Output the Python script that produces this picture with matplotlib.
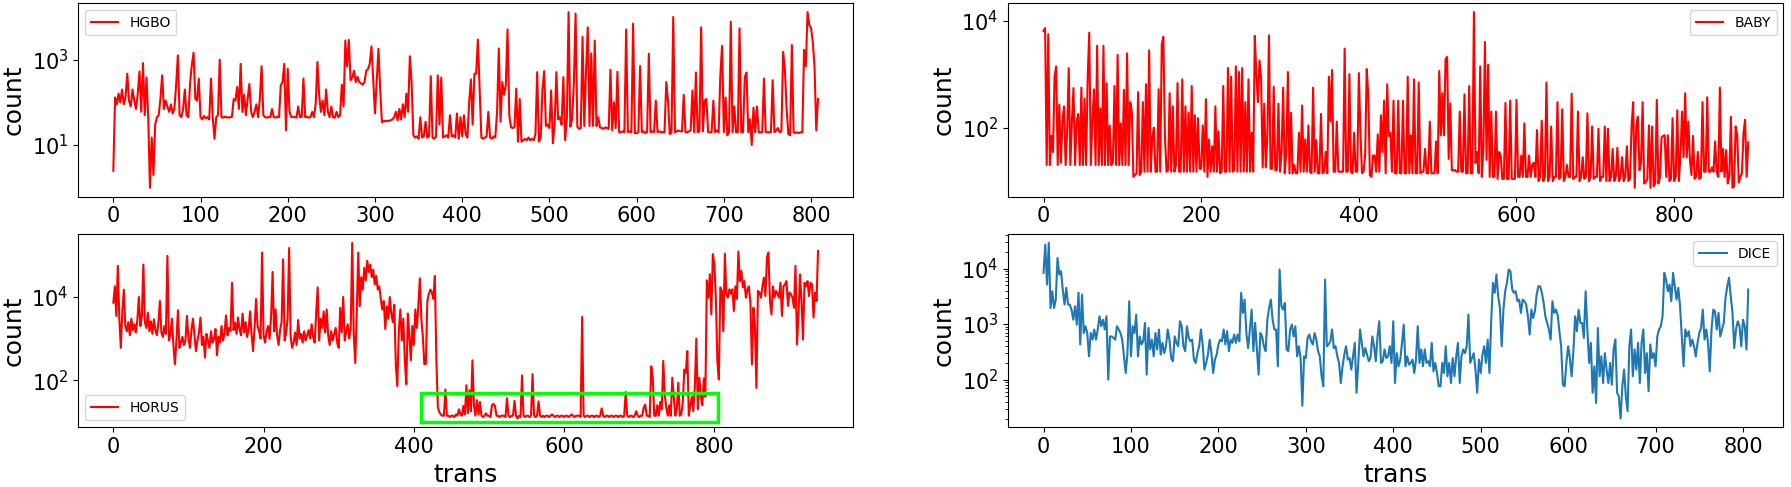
import numpy as np
import matplotlib
matplotlib.use("Agg")
import matplotlib.pyplot as plt
from matplotlib.patches import Rectangle
from matplotlib.ticker import NullLocator

# =========================
# DATA (one value every 2 trans)
# =========================
step = 2

hgbo = [
    2.5, 130, 90, 160, 100, 200, 90, 130, 470, 110,
    80, 200, 110, 70, 160, 530, 60, 830, 50, 380,
    45, 1, 15, 2, 30, 45, 50, 120, 430, 70,
    110, 80, 60, 90, 55, 70, 250, 1260, 50, 45,
    70, 200, 50, 45, 280, 740, 1450, 120, 110, 360,
    45, 40, 48, 42, 45, 40, 360, 45, 14, 45,
    50, 1000, 45, 44, 46, 45, 44, 45, 46, 120,
    110, 230, 70, 800, 60, 150, 50, 120, 270, 60,
    45, 60, 90, 45, 120, 700, 50, 45, 44, 45,
    45, 70, 45, 44, 46, 45, 250, 300, 800, 22,
    610, 60, 45, 46, 45, 44, 80, 45, 46, 360,
    45, 46, 44, 45, 60, 45, 90, 880, 150, 60,
    110, 50, 200, 60, 45, 80, 45, 44, 60, 45,
    50, 260, 80, 2800, 700, 2900, 330, 380, 550, 300,
    400, 300, 280, 260, 300, 550, 600, 800, 2040, 350,
    55, 300, 1800, 200, 34, 37, 36, 37, 37, 38,
    40, 45, 60, 38, 70, 40, 90, 45, 160, 60,
    1200, 300, 17, 15, 16, 14, 45, 15, 16, 35,
    15, 16, 410, 15, 14, 16, 430, 30, 380, 15,
    16, 17, 15, 50, 16, 17, 15, 55, 14, 45,
    16, 50, 18, 15, 100, 345, 30, 470, 470, 2950,
    220, 15, 14, 15, 16, 60, 15, 14, 16, 15,
    60, 1830, 35, 300, 150, 250, 5100, 50, 26, 25,
    27, 210, 12, 120, 12, 13, 14, 13, 15, 13,
    14, 13, 18, 510, 12, 15, 200, 540, 28, 30,
    25, 190, 11, 30, 510, 40, 45, 30, 390, 13,
    40, 13000, 27, 40, 260, 12000, 27, 24, 25, 3400,
    28, 550, 5700, 28, 1400, 28, 2800, 28, 45, 26,
    25, 24, 26, 25, 24, 580, 22, 100, 25, 520,
    20, 20, 21, 20, 5100, 20, 21, 20, 7000, 19,
    19, 20, 710, 20, 21, 19, 20, 1380, 20, 21,
    20, 110, 20, 21, 20, 20, 20, 300, 110, 18,
    20, 10000, 20, 21, 22, 21, 21, 150, 20, 20,
    21, 22, 190, 20, 500, 20, 21, 5700, 21, 110,
    120, 20, 20, 20, 110, 20, 22, 20, 430, 2100,
    20, 130, 17, 20, 7700, 20, 80, 20, 20, 5400,
    20, 20, 390, 500, 20, 40, 10, 75, 20, 80,
    20, 20, 20, 360, 20, 20, 20, 20, 330, 20,
    22, 25, 20, 21, 1520, 600, 70, 18, 17, 2200,
    20, 19, 20, 19, 20, 20, 1700, 700, 13000, 6500,
    5500, 2600, 680, 22, 120,
]

baby = [
    6400, 7300, 20, 5600, 20, 70, 35, 900, 1400, 20,
    270, 22, 130, 250, 20, 90, 1300, 20, 130, 550,
    20, 130, 180, 20, 560, 20, 350, 20, 870, 6000,
    20, 140, 520, 20, 3400, 20, 230, 20, 3400, 20,
    680, 20, 110, 20, 22, 600, 20, 2300, 20, 120,
    20, 510, 20, 2450, 20, 300, 200, 12, 13, 14,
    460, 13, 15, 300, 15, 650, 15, 2800, 15, 65,
    100, 15, 15, 520, 15, 3600, 5000, 70, 15, 16,
    440, 15, 250, 15, 20, 680, 15, 15, 800, 15,
    250, 15, 190, 15, 600, 15, 170, 15, 150, 17,
    17, 110, 15, 340, 12, 60, 15, 45, 15, 250,
    15, 85, 14, 15, 600, 15, 15, 1300, 15, 900,
    15, 16, 1400, 15, 1100, 15, 1300, 15, 300, 15,
    800, 15, 80, 15, 5200, 1000, 300, 1800, 850, 18,
    280, 18, 72, 5300, 17, 17, 580, 16, 16, 280,
    15, 35, 560, 14, 35, 1100, 14, 190, 14, 20,
    14, 14, 80, 15, 260, 15, 60, 15, 110, 15,
    14, 560, 15, 58, 14, 14, 180, 14, 15, 35,
    14, 900, 130, 1200, 15, 15, 130, 15, 15, 15,
    15, 3000, 15, 15, 1000, 15, 14, 80, 15, 15,
    1050, 80, 14, 15, 30, 1250, 400, 13, 12, 30,
    30, 15, 75, 15, 170, 35, 320, 14, 650, 70,
    80, 15, 320, 14, 14, 320, 14, 14, 320, 14,
    14, 900, 14, 72, 14, 800, 14, 14, 700, 14,
    15, 15, 40, 14, 14, 130, 14, 14, 14, 55,
    14, 1150, 72, 440, 72, 1900, 2100, 26, 285, 16,
    16, 16, 15, 15, 200, 15, 15, 420, 14, 14,
    600, 14, 14, 14500, 22, 35, 14, 1400, 12, 40,
    4000, 25, 1500, 12, 200, 12, 12, 200, 11, 35,
    30, 11, 11, 290, 11, 11, 320, 11, 11, 11,
    330, 12, 12, 30, 12, 120, 12, 12, 30, 12,
    20, 22, 12, 90, 10, 12, 135, 10, 12, 700,
    10, 12, 105, 10, 12, 12, 300, 11, 12, 220,
    10, 12, 20, 12, 12, 430, 11, 12, 12, 200,
    10, 12, 28, 11, 12, 185, 10, 12, 105, 11,
    12, 12, 95, 10, 12, 12, 105, 10, 95, 10,
    12, 40, 10, 12, 42, 10, 12, 28, 10, 12,
    45, 10, 11, 105, 300, 7.5, 110, 160, 16, 22,
    300, 9, 9.5, 11, 110, 7.5, 105, 8, 9, 330,
    9, 12, 65, 70, 72, 12, 72, 10, 11, 150,
    10, 12, 210, 10, 30, 200, 28, 440, 28, 130,
    25, 13, 70, 11, 12, 35, 11, 12, 300, 15,
    15, 370, 15, 15, 18, 15, 55, 15, 12, 560,
    15, 40, 12, 38, 9, 12, 160, 7.5, 8, 105,
    72, 9.4, 12, 14, 80, 140, 12, 53,
]

horus = [
    7300, 18000, 3500, 56000, 3000, 600, 4500, 15000, 2000, 1500,
    2500, 1200, 3000, 1600, 2200, 1400, 2800, 10000, 2000, 3500,
    60000, 2500, 1800, 4200, 1500, 2600, 1300, 2900, 1600, 1200,
    2400, 8000, 1400, 1100, 2000, 1300, 97000, 900, 1200, 3000,
    700, 240, 900, 4800, 600, 800, 1100, 700, 900, 3500,
    1000, 600, 1600, 3000, 1200, 500, 900, 1400, 3200, 700,
    1100, 350, 1300, 900, 600, 1500, 800, 1000, 1700, 400,
    1100, 800, 2000, 900, 1300, 3600, 1200, 1800, 1500, 22000,
    1600, 2400, 1300, 3200, 1700, 1200, 4000, 1400, 2500, 1100,
    1600, 4500, 1300, 500, 1800, 9000, 2000, 1500, 1000, 117000,
    1200, 800, 1500, 2000, 1000, 3500, 40000, 1500, 5000, 1200,
    700, 1600, 2500, 80000, 900, 1400, 3000, 150000, 1100, 600,
    800, 1400, 700, 2800, 1000, 1300, 800, 1500, 900, 1200,
    1600, 1000, 2200, 1100, 800, 4000, 17000, 900, 3000, 1800,
    4500, 1400, 5000, 1200, 700, 1500, 900, 1300, 1800, 800,
    600, 5500, 1400, 10000, 900, 1500, 2200, 1000, 1800, 200000,
    1300, 260, 3800, 117000, 6000, 30000, 15000, 50000, 25000, 74000,
    40000, 60000, 30000, 45000, 20000, 32000, 15000, 18000, 9000, 5000,
    8000, 1700, 6000, 3000, 10000, 4000, 2500, 6500, 240, 72,
    1500, 5000, 900, 3000, 300, 80, 4000, 1200, 300, 2000,
    700, 5000, 1800, 6000, 28000, 3000, 1100, 240, 250, 8000,
    12000, 15000, 13000, 9000, 32000, 300, 22, 17, 15, 14,
    14, 60, 14, 14, 13, 14, 14, 13, 15, 14,
    20, 15, 14, 24, 15, 76, 16, 57, 18, 300,
    25, 14, 33, 15, 30, 14, 13, 14, 16, 14,
    14, 13, 25, 27, 24, 14, 14, 13, 14, 14,
    14, 13, 37, 14, 13, 14, 14, 32, 14, 12,
    14, 13, 130, 14, 13, 14, 14, 13, 14, 140,
    14, 13, 14, 31, 14, 13, 14, 13, 14, 14,
    13, 14, 15, 14, 13, 14, 14, 13, 14, 14,
    13, 14, 14, 13, 14, 15, 14, 13, 14, 14,
    14, 13, 3300, 14, 13, 14, 14, 13, 14, 14,
    13, 14, 14, 13, 14, 21, 14, 13, 14, 14,
    13, 14, 14, 13, 14, 14, 13, 14, 14, 13,
    14, 52, 14, 13, 14, 14, 13, 14, 18, 14,
    13, 14, 14, 22, 26, 14, 14, 13, 215, 115,
    14, 14, 25, 14, 30, 20, 290, 45, 22, 14,
    25, 14, 115, 40, 14, 20, 87, 14, 15, 30,
    180, 150, 500, 14, 25, 40, 18, 70, 1000, 20,
    115, 40, 25, 110, 40, 25000, 9600, 35000, 3800, 107000,
    61000, 9600, 290, 104, 17000, 14000, 1500, 110000, 11600, 9600,
    15300, 12000, 15300, 4600, 18000, 9000, 123000, 24000, 42000, 17000,
    24000, 9600, 15000, 18000, 7300, 240, 5500, 2000, 65, 14000,
    12700, 9600, 18000, 29000, 10500, 89000, 117000, 8000, 3800, 18000,
    9600, 14000, 12000, 9600, 22000, 3500, 18000, 20000, 24000, 6100,
    12700, 11600, 9600, 5500, 56000, 720, 3800, 35000, 8000, 950,
    22000, 18000, 24000, 10500, 22000, 20000, 3200, 12700, 8000, 128000,
]

dice = [
    8350, 27000, 5150, 29000, 1950, 3900, 1950, 2760, 15500, 7800,
    8950, 4200, 2250, 4500, 2250, 2250, 1820, 1200, 2100, 980,
    3650, 430, 3400, 690, 915, 690, 263, 690, 525, 800,
    525, 800, 1380, 915, 1200, 800, 1380, 100, 600, 600,
    565, 525, 915, 800, 690, 525, 263, 132, 300, 2580,
    263, 915, 690, 1480, 263, 600, 430, 490, 1050, 123,
    850, 350, 525, 263, 690, 350, 800, 282, 460, 300,
    400, 800, 525, 245, 215, 600, 460, 400, 1125, 915,
    400, 325, 915, 565, 490, 525, 230, 200, 300, 400,
    800, 430, 152, 200, 282, 525, 300, 132, 230, 282,
    430, 525, 490, 800, 430, 745, 325, 525, 460, 650,
    460, 650, 490, 3650, 1590, 2760, 690, 370, 800, 1820,
    325, 1050, 370, 123, 690, 600, 400, 325, 1200, 1950,
    2760, 1200, 800, 800, 174, 9600, 2100, 1820, 2400, 350,
    325, 800, 980, 600, 915, 263, 400, 245, 34, 263,
    245, 565, 650, 490, 430, 690, 525, 325, 263, 115,
    76, 6300, 400, 430, 490, 800, 370, 400, 263, 200,
    87, 174, 282, 400, 230, 245, 152, 263, 460, 58,
    200, 800, 460, 263, 370, 282, 215, 245, 600, 400,
    215, 600, 1125, 200, 215, 350, 245, 263, 400, 200,
    1125, 87, 300, 174, 230, 460, 980, 174, 263, 186,
    200, 230, 132, 230, 915, 200, 350, 174, 350, 200,
    215, 174, 460, 141, 200, 132, 76, 76, 200, 132,
    400, 115, 200, 87, 245, 115, 263, 460, 87, 263,
    350, 300, 400, 1480, 200, 245, 300, 152, 58, 230,
    132, 282, 400, 200, 525, 132, 1125, 5500, 3650, 7800,
    3180, 1950, 400, 1820, 3900, 5500, 9600, 8950, 4200, 3650,
    3900, 2580, 2760, 1590, 2760, 2580, 2250, 1380, 650, 1820,
    1290, 1700, 3400, 4800, 4800, 3650, 2400, 1380, 1050, 800,
    525, 2580, 1590, 1820, 1480, 745, 400, 81, 76, 200,
    400, 245, 115, 325, 1380, 745, 1820, 1050, 1050, 565,
    3900, 800, 200, 460, 58, 174, 38, 850, 115, 263,
    87, 300, 152, 87, 200, 81, 350, 525, 58, 50,
    20, 76, 152, 50, 27, 400, 800, 115, 350, 152,
    460, 87, 460, 800, 132, 300, 62, 430, 245, 300,
    174, 600, 800, 915, 1380, 8350, 6300, 3900, 5150, 2580,
    8350, 4800, 2760, 4500, 2100, 600, 174, 800, 600, 745,
    400, 525, 400, 263, 460, 690, 850, 1820, 525, 800,
    460, 141, 800, 1820, 1700, 800, 1590, 600, 800, 1050,
    2960, 4800, 6800, 3180, 1590, 370, 800, 1125, 915, 400,
    1200, 915, 350, 4200,
]

# labelled decades on the y axes (DICE keeps the default locator)
hgbo_yticks = [1e1, 1e3]
baby_yticks = [1e2, 1e4]
horus_yticks = [1e2, 1e4]

# green box around the HORUS low region
box_x = [410, 805]
box_y = [10, 48]

# =========================
# FIGURE
# =========================
fig, axes = plt.subplots(2, 2, figsize=(17.91, 4.87), dpi=100)
fig.subplots_adjust(left=0.0436, right=0.9958, bottom=0.1226, top=0.9932,
                    wspace=0.2, hspace=0.194)

panels = [
    (axes[0, 0], hgbo, "HGBO", "red", "upper left", hgbo_yticks),
    (axes[0, 1], baby, "BABY", "red", "upper right", baby_yticks),
    (axes[1, 0], horus, "HORUS", "red", "lower left", horus_yticks),
    (axes[1, 1], dice, "DICE", "C0", "upper right", None),
]

for ax, vals, name, color, loc, yt in panels:
    x = np.arange(len(vals)) * step
    ax.plot(x, vals, color=color, label=name)
    ax.set_yscale("log")
    if yt is not None:
        ax.set_yticks(yt)
        ax.yaxis.set_minor_locator(NullLocator())
    ax.set_ylabel("count", fontsize=18)
    ax.tick_params(labelsize=15)
    ax.legend(loc=loc, fontsize=10)

axes[0, 0].set_xticks(range(0, 801, 100))
axes[1, 1].set_xticks(range(0, 801, 100))

axes[1, 0].set_xlabel("trans", fontsize=18)
axes[1, 1].set_xlabel("trans", fontsize=18)

axes[1, 0].add_patch(Rectangle((box_x[0], box_y[0]), box_x[1] - box_x[0],
                               box_y[1] - box_y[0], fill=False,
                               edgecolor="lime", linewidth=2.5, zorder=3))

fig.savefig("out.png", dpi=100)
